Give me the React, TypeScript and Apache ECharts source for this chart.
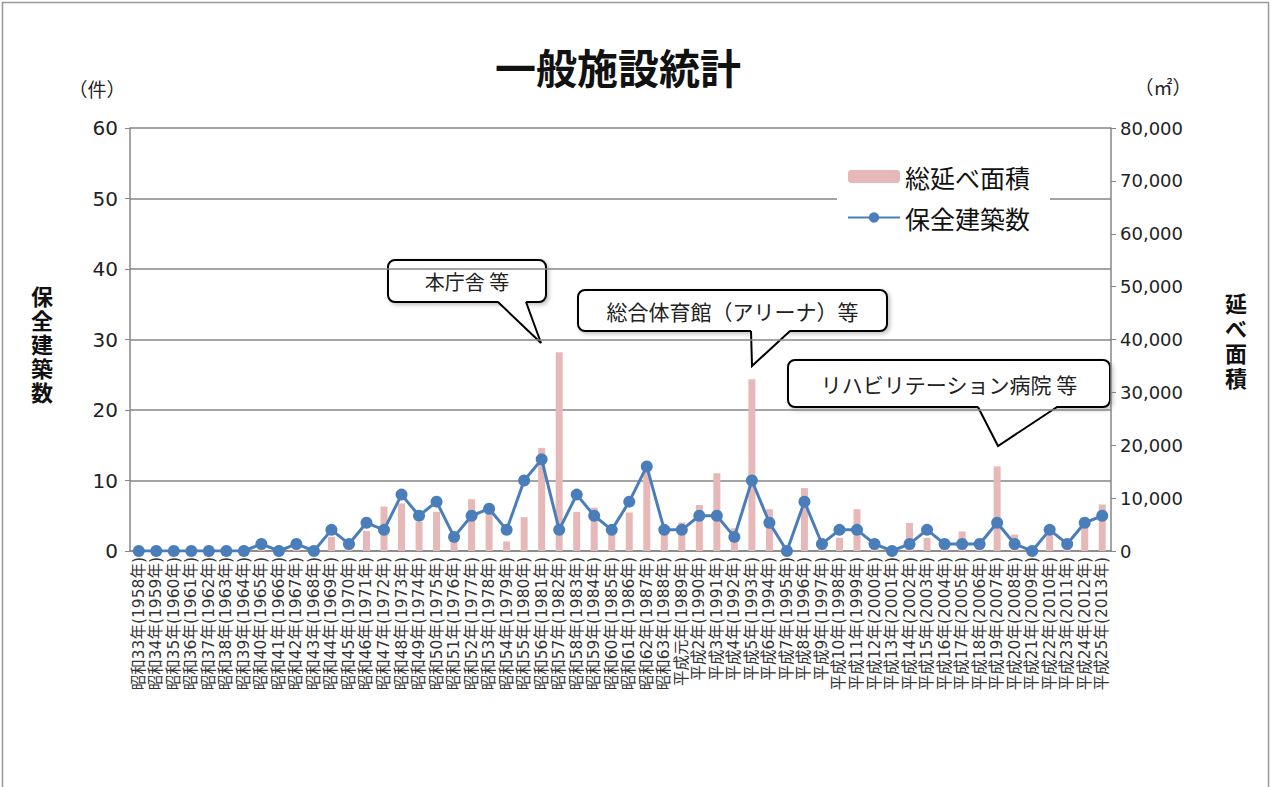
import React, { useEffect, useRef } from "react";
import * as echarts from "echarts";

const categories: string[] = [
  "昭和33年(1958年)", "昭和34年(1959年)", "昭和35年(1960年)", "昭和36年(1961年)", "昭和37年(1962年)",
  "昭和38年(1963年)", "昭和39年(1964年)", "昭和40年(1965年)", "昭和41年(1966年)", "昭和42年(1967年)",
  "昭和43年(1968年)", "昭和44年(1969年)", "昭和45年(1970年)", "昭和46年(1971年)", "昭和47年(1972年)",
  "昭和48年(1973年)", "昭和49年(1974年)", "昭和50年(1975年)", "昭和51年(1976年)", "昭和52年(1977年)",
  "昭和53年(1978年)", "昭和54年(1979年)", "昭和55年(1980年)", "昭和56年(1981年)", "昭和57年(1982年)",
  "昭和58年(1983年)", "昭和59年(1984年)", "昭和60年(1985年)", "昭和61年(1986年)", "昭和62年(1987年)",
  "昭和63年(1988年)", "平成元年(1989年)", "平成2年(1990年)", "平成3年(1991年)", "平成4年(1992年)",
  "平成5年(1993年)", "平成6年(1994年)", "平成7年(1995年)", "平成8年(1996年)", "平成9年(1997年)",
  "平成10年(1998年)", "平成11年(1999年)", "平成12年(2000年)", "平成13年(2001年)", "平成14年(2002年)",
  "平成15年(2003年)", "平成16年(2004年)", "平成17年(2005年)", "平成18年(2006年)", "平成19年(2007年)",
  "平成20年(2008年)", "平成21年(2009年)", "平成22年(2010年)", "平成23年(2011年)", "平成24年(2012年)",
  "平成25年(2013年)",
];

// 保全建築数 (件)
const buildingCounts: number[] = [
  0, 0, 0, 0, 0, 0, 0, 1, 0, 1, 0,
  3, 1, 4, 3, 8, 5, 7, 2, 5, 6, 3,
  10, 13, 3, 8, 5, 3, 7, 12, 3, 3, 5,
  5, 2, 10, 4, 0, 7, 1, 3, 3, 1, 0,
  1, 3, 1, 1, 1, 4, 1, 0, 3, 1, 4, 5,
];

// 総延べ面積 (㎡)
const totalFloorArea: number[] = [
  0, 0, 0, 0, 0, 0, 0, 300, 200, 300, 200,
  2700, 500, 3800, 8400, 9000, 5500, 7400, 2000, 9800, 7500, 1800,
  6400, 19500, 37600, 7400, 8200, 3500, 7300, 15500, 3500, 5400, 8700,
  14700, 4300, 32500, 7900, 0, 11900, 500, 2500, 7900, 500, 0,
  5300, 2500, 500, 3700, 2000, 16000, 3100, 0, 3000, 500, 5500, 8800,
];

const leftTicks = { min: 0, max: 60, interval: 10 };
const rightTicks = { min: 0, max: 80000, interval: 10000 };

const chartTitle = "一般施設統計";
const seriesNames = ["総延べ面積", "保全建築数"];
const leftAxisTitle = ["保", "全", "建", "築", "数"];
const rightAxisTitle = ["延", "べ", "面", "積"];
const callouts = ["本庁舎 等", "総合体育館（アリーナ）等", "リハビリテーション病院 等"];

const FONT = "'Noto Sans CJK JP', 'Noto Sans', sans-serif";
const NUMFONT = "'DejaVu Sans', 'Noto Sans CJK JP', sans-serif";

function callout(
  text: string,
  x: number, y: number, w: number, h: number,
  b1: number, b2: number, tip: [number, number], fontSize: number
) {
  const by = y + h;
  return {
    type: "group",
    z: 100,
    children: [
      {
        type: "rect",
        shape: { x, y, width: w, height: h, r: 7 },
        style: { fill: "#fff", stroke: "#000", lineWidth: 2, shadowBlur: 4, shadowColor: "rgba(0,0,0,0.25)", shadowOffsetX: 2, shadowOffsetY: 2 },
      },
      {
        type: "polygon",
        shape: { points: [[b1, by - 1], [b2, by - 1], tip] },
        style: { fill: "#fff", stroke: null },
      },
      {
        type: "rect",
        shape: { x: b1 + 1, y: by - 2, width: b2 - b1 - 2, height: 3 },
        style: { fill: "#fff" },
      },
      {
        type: "polyline",
        shape: { points: [[b1, by], tip, [b2, by]] },
        style: { stroke: "#000", lineWidth: 2, fill: null },
      },
      {
        type: "text",
        x: x + w / 2,
        y: y + h / 2,
        style: { text, fontSize, fill: "#222", align: "center", verticalAlign: "middle", fontFamily: FONT },
      },
    ],
  };
}

function verticalTitle(chars: string[], cx: number, cy: number, step: number, fontSize: number) {
  const top = cy - ((chars.length - 1) * step) / 2;
  return chars.map((ch, i) => ({
    type: "text",
    x: cx,
    y: top + i * step,
    style: {
      text: ch,
      fontSize,
      lineHeight: step - 1,
      fontWeight: "bold",
      fill: "#111",
      align: "center",
      verticalAlign: "middle",
      fontFamily: FONT,
    },
  }));
}

export default function App() {
  const ref = useRef<HTMLDivElement>(null);

  useEffect(() => {
    if (!ref.current) return;
    const chart = echarts.init(ref.current, null, { renderer: "svg" });
    const axisGray = "#868686";
    chart.setOption({
      animation: false,
      backgroundColor: "#fff",
      textStyle: { fontFamily: FONT },
      grid: { left: 130, right: 160, top: 128, bottom: 236, containLabel: false },
      legend: {
        orient: "vertical",
        left: 837,
        top: 160,
        data: seriesNames,
        backgroundColor: "#fff",
        padding: [4, 20, 6, 10],
        itemWidth: 52,
        itemHeight: 13,
        itemGap: 16,
        textStyle: { fontSize: 25, color: "#111", fontFamily: FONT },
        z: 50,
      },
      xAxis: {
        type: "category",
        data: categories,
        boundaryGap: true,
        axisLine: { lineStyle: { color: axisGray, width: 1.5 } },
        axisTick: { show: false },
        axisLabel: { rotate: 90, interval: 0, fontSize: 15.5, color: "#333", margin: 6, fontFamily: NUMFONT },
      },
      yAxis: [
        {
          type: "value",
          position: "left",
          min: leftTicks.min,
          max: leftTicks.max,
          interval: leftTicks.interval,
          axisLine: { show: true, lineStyle: { color: axisGray, width: 1.5 } },
          axisTick: { show: true, length: 5, lineStyle: { color: axisGray } },
          splitLine: { lineStyle: { color: axisGray, width: 1.5 } },
          axisLabel: { fontSize: 20, color: "#222", margin: 12, fontFamily: "'DejaVu Sans', sans-serif" },
        },
        {
          type: "value",
          position: "right",
          min: rightTicks.min,
          max: rightTicks.max,
          interval: rightTicks.interval,
          axisLine: { show: true, lineStyle: { color: axisGray, width: 1.5 } },
          axisTick: { show: true, length: 5, lineStyle: { color: axisGray } },
          splitLine: { show: false },
          axisLabel: {
            fontSize: 18,
            color: "#222",
            margin: 9,
            fontFamily: "'DejaVu Sans', sans-serif",
            formatter: (v: number) => v.toLocaleString("en-US"),
          },
        },
      ],
      series: [
        {
          name: seriesNames[0],
          type: "bar",
          yAxisIndex: 1,
          data: totalFloorArea,
          barWidth: "40%",
          itemStyle: { color: "#e6b9b8" },
          z: 2,
        },
        {
          name: seriesNames[1],
          type: "line",
          yAxisIndex: 0,
          data: buildingCounts,
          symbol: "circle",
          symbolSize: 12,
          lineStyle: { color: "#4a7ebb", width: 3 },
          itemStyle: { color: "#4a7ebb" },
          z: 3,
        },
      ],
      graphic: [
        {
          type: "rect",
          silent: true,
          z: 200,
          shape: { x: 2.5, y: 2.5, width: 1266, height: 800 },
          style: { fill: null, stroke: "#999", lineWidth: 1.5 },
        },
        {
          type: "text",
          x: 618,
          y: 66,
          style: { text: chartTitle, fontSize: 41, fontWeight: "bold", fill: "#111", align: "center", verticalAlign: "middle", fontFamily: FONT },
        },
        {
          type: "text",
          x: 97,
          y: 88,
          style: { text: "（件）", fontSize: 19, fill: "#222", align: "center", verticalAlign: "middle", fontFamily: FONT },
        },
        {
          type: "text",
          x: 1163,
          y: 86,
          style: { text: "（㎡）", fontSize: 19, fill: "#222", align: "center", verticalAlign: "middle", fontFamily: FONT },
        },
        ...verticalTitle(leftAxisTitle, 42, 343, 24, 22),
        ...verticalTitle(rightAxisTitle, 1236, 339, 25, 22),
        callout(callouts[0], 388, 260, 158, 42, 498, 526, [541, 343], 20),
        callout(callouts[1], 578, 290, 309, 41, 751, 790, [752, 366], 21),
        callout(callouts[2], 788, 360, 322, 47, 978, 1057, [998, 446], 21),
      ],
    });
    return () => chart.dispose();
  }, []);

  return (
    <div
      ref={ref}
      style={{ position: "absolute", left: 0, top: 0, width: 1271, height: 787, background: "#fff" }}
    />
  );
}
